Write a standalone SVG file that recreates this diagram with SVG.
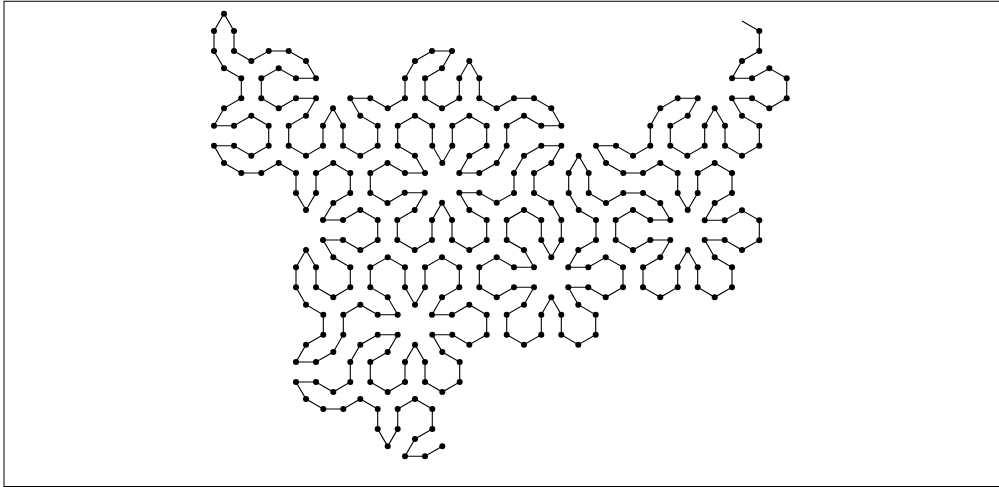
<svg xmlns="http://www.w3.org/2000/svg" width="999" height="487" viewBox="0 0 999 487">
<defs><marker id="dot" markerUnits="userSpaceOnUse" markerWidth="8" markerHeight="8" refX="4" refY="4"><circle cx="4" cy="4" r="3" fill="#000"/></marker></defs>
<style>.frame{fill:#fff;stroke:#000;stroke-width:1}.curve{fill:none;stroke:#000;stroke-width:1.1;marker-mid:url(#dot);marker-end:url(#dot)}</style>
<rect class="frame" x="4" y="1.25" width="1000" height="485.25"/>
<g id="connectors"><polyline class="curve" points="742,21 759.3,31 759.3,51 742,61 732,78.3 752,78.3 769.3,68.3 786.7,78.3 786.7,98.3 769.3,108.3 752,98.3 732,98.3 742,115.7 759.3,125.7 759.3,145.7 742,155.7 725,145.7 725,125.7 714.7,108.3 704.7,125.7 704.7,145.7 687.3,155.7 670.3,145.7 670.3,125.7 687.7,115.7 697.7,98.3 677.7,98.3 660.3,108.3 650.3,125.7 650.3,145.7 633,155.7 616,145.7 596,145.7 606,163 623.3,173 643,173 660.3,163 677.7,173 677.7,193 687.7,210 697.7,193 697.7,173 714.7,163 732,173 732,193 714.7,203 704.7,220.3 724.7,220.3 742,210.3 759.3,220.3 759.3,240.3 742,250 724.7,240 704.7,240 714.7,257.3 732,267.3 732,287.3 714.7,297.3 697.7,287.3 697.7,267.3 687.7,250 677.7,267.3 677.7,287.3 660.3,297.3 643,287.3 643,267.3 660.3,257.3 670.3,240 650.3,240 633,250 615.7,240 615.7,220 633,210 650.3,220 670.3,220 660.3,203 643,193 623.3,193 606,203 588.7,193 588.7,173 578.7,155.7 568.7,173 568.7,193 578.7,210 596,220 596,240 578.3,250 568.3,267.3 588.3,267.3 605.7,257.3 623,267.3 623,287.3 605.7,297.3 588.3,287.3 568.3,287.3 578.3,304.7 595.7,314.7 595.7,334.7 578.3,344.7 561.3,334.7 561.3,314.7 551.3,297.3 541.3,314.7 541.3,334.7 524,344.7 506.7,334.7 506.7,314.7 524,304.7 534,287.3 514,287.3 496.7,297.3 479.3,287.3 479.3,267.3 496.7,257.3 514,267.3 534,267.3 524,250 506.7,240 506.7,220 524,210 541.3,220 541.3,240 551.3,257.3 561.3,240 561.3,220 551.3,202.7 534,193 534,173 551.3,163 561.3,145.7 541.3,145.7 524,155.7 514,173 514,193 496.7,202.7 479.3,192.7 459.3,192.7 469.3,210 486.7,220 486.7,240 469.3,250 452,240 452,220 442,202.7 432,220 432,240 414.7,250 397.3,240 397.3,220 414.7,210 424.7,192.7 404.7,192.7 387.5,203 370.3,193 370.3,173 387.5,163 405,173 425,173 415,155.7 397.7,145.7 397.7,125.7 415,115.7 432.3,125.7 432.3,145.7 442.3,163 452.3,145.7 452.3,125.7 469.3,115.7 486.7,125.7 486.7,145.7 469.3,155.7 459.3,173 479.3,173 496.7,163 506.7,145.7 506.7,125.7 524,115.7 541.3,125.7 561.3,125.7 551.3,108.3 534,98.3 514,98.3 496.7,108.3 479.3,98.3 479.3,78.3 469.3,61 459.3,78.3 459.3,98.3 442,108.3 425,98.3 425,78.3 442,68.3 452,51 432,51 415,61 405,78.3 405,98.3 387.7,108.3 370.3,98.3 350.3,98.3 360.3,115.7 377.7,125.7 377.7,145.7 360.3,155.7 343,145.7 343,125.7 333,108.3 323,125.7 323,145.7 306,155.7 288.7,145.7 288.7,125.7 306,115.7 316,98.3 296,98.3 278.7,108.3 261.3,98.3 261.3,78.3 278.7,68.3 296,78.3 316,78.3 306,61 288.7,51 268.7,51 251.3,61 234,51 234,31 224,13.7 214,31 214,51 224,68.3 241.3,78.3 241.3,98.3 224,108.3 214,125.7 234,125.7 251.3,115.7 268.7,125.7 268.7,145.7 251.3,155.7 234,145.7 214,145.7 224,163 241.3,173 261.3,173 278.7,163 296,173 296,193 306,210 316,193 316,173 333.3,163 350.3,173 350.3,193 333.3,203 323,220 343,220 360.3,210 377.7,220 377.7,240 360.3,250 343,240 323,240 333.3,257.3 350.3,267.3 350.3,287.3 333.3,297.3 316,287.3 316,267.3 306,250 296,267.3 296,287.3 306,304.7 323.3,314.7 323.3,334.7 306,344.7 296,362 316,362 333.3,352 343.3,334.7 343.3,314.7 360.3,304.7 377.7,314.7 397.7,314.7 387.7,297.3 370.3,287.3 370.3,267.3 387.7,257.3 405,267.3 405,287.3 415,304.7 425,287.3 425,267.3 442,257.3 459.3,267.3 459.3,287.3 442,297.3 432,314.7 452,314.7 469.3,304.7 486.7,314.7 486.7,334.7 469.3,344.7 452.3,334.7 432.3,334.7 442.3,352 459.7,362 459.7,382 442.3,392 425,382 425,362 415,344.7 405,362 405,382 387.7,392 370.3,382 370.3,362 387.7,352 397.7,334.7 377.7,334.7 360.3,344.7 350.3,362 350.3,382 333.3,392 316,382 296,382 306,399 323.3,409 343.3,409 360.3,399 377.7,409 377.7,429 387.7,446.3 397.7,429 397.7,409 415,399 432.3,409 432.3,429 415,439 405,456.3 425,456.3 442.3,446.3"/></g>
</svg>
